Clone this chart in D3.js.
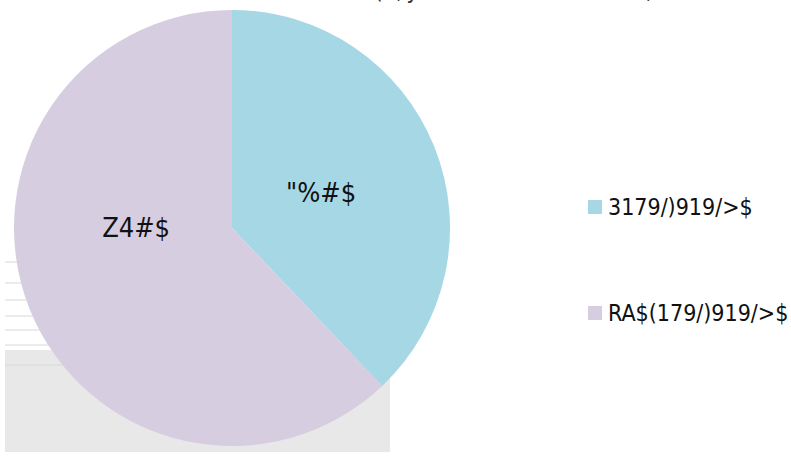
<!DOCTYPE html>
<html>
<head>
<meta charset="utf-8">
<script src="https://cdn.jsdelivr.net/npm/d3@7"></script>
<style>
  body { margin: 0; background: #fff; }
  svg { display: block; }
  text { font-family: "DejaVu Sans", sans-serif; font-stretch: condensed; }
</style>
</head>
<body>
<div id="chart"></div>
<script>
// data
var categories = ['"%#$', 'Z4#$'];
var legendLabels = ["3179/)919/>$", "RA$(179/)919/>$"];
var values = [37.9, 62.1];
var colors = ["#a6d7e4", "#d7cde1"];
var titleText = "uS ( ,y  a'u.uS.a  Ua.ua  ,  .u";

var width = 791, height = 459;
var cx = 232, cy = 228, radius = 218;

var svg = d3.select("#chart").append("svg")
  .attr("width", width)
  .attr("height", height);

// faint grey shadow leftovers behind the pie
var shadow = svg.append("g");
shadow.append("rect")
  .attr("x", 5).attr("y", 350).attr("width", 385).attr("height", 102)
  .style("fill", "#e8e8e8");
shadow.selectAll("line")
  .data([262, 283, 300, 316, 330, 345, 365])
  .enter().append("line")
  .attr("x1", 5).attr("x2", 110)
  .attr("y1", function(d) { return d; })
  .attr("y2", function(d) { return d; })
  .style("stroke", "#d8d8d8")
  .style("stroke-width", 1);

// title (cut off at the top, as in the original)
svg.append("text")
  .attr("x", 330)
  .attr("y", -2)
  .attr("textLength", 360)
  .attr("lengthAdjust", "spacing")
  .style("font-size", "24px")
  .style("fill", "#333")
  .text(titleText);

var pie = d3.pie().sort(null).value(function(d) { return d; });
var arc = d3.arc().innerRadius(0).outerRadius(radius);

var g = svg.append("g")
  .attr("transform", "translate(" + cx + "," + cy + ")");

g.selectAll("path")
  .data(pie(values))
  .enter().append("path")
  .attr("d", arc)
  .style("fill", function(d, i) { return colors[i]; });

// slice labels: placed at ~45% radius, second one nudged up toward 9 o'clock
var labelR = radius * 0.44;
var angleShift = [0, 0.38];
g.selectAll(".slice-label")
  .data(pie(values))
  .enter().append("text")
  .attr("class", "slice-label")
  .attr("transform", function(d, i) {
    var a = (d.startAngle + d.endAngle) / 2 + angleShift[i];
    return "translate(" + (Math.sin(a) * labelR) + "," + (-Math.cos(a) * labelR) + ")";
  })
  .attr("text-anchor", "middle")
  .attr("dy", ".35em")
  .style("font-size", "27px")
  .style("fill", "#111")
  .text(function(d, i) { return categories[i]; });

// legend
var legend = svg.selectAll(".legend")
  .data(legendLabels)
  .enter().append("g")
  .attr("class", "legend")
  .attr("transform", function(d, i) { return "translate(588," + (207 + i * 106) + ")"; });

legend.append("rect")
  .attr("x", 0).attr("y", -7)
  .attr("width", 14).attr("height", 14)
  .style("fill", function(d, i) { return colors[i]; });

legend.append("text")
  .attr("x", 20)
  .attr("dy", ".35em")
  .style("font-size", "23px")
  .style("fill", "#111")
  .text(function(d) { return d; });
</script>
</body>
</html>
